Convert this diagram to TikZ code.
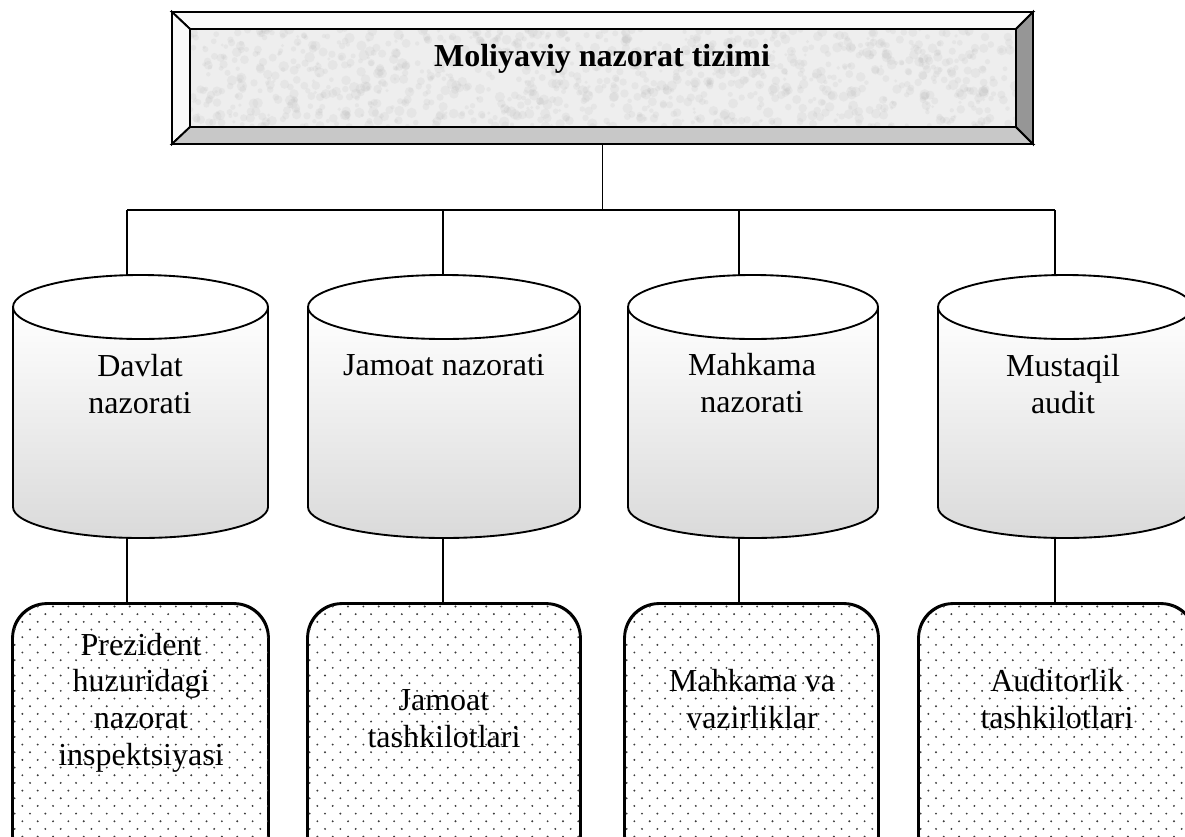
\documentclass[tikz,border=0pt]{standalone}
\usepackage{fontspec}
\setmainfont{Liberation Serif}
\definecolor{bevlight}{RGB}{250,250,250}
\definecolor{bevbottom}{RGB}{200,200,200}
\definecolor{bevright}{RGB}{150,150,150}
\definecolor{innerfill}{RGB}{238,238,238}
\definecolor{speck}{RGB}{175,175,175}
\definecolor{cylgray}{RGB}{218,218,218}
\definecolor{dotc}{RGB}{60,60,60}
\tikzset{
  conn/.style={draw=black, line width=1.1pt},
  outline/.style={draw=black, line width=1.4pt},
  txt/.style={font=\fontsize{24}{27.5}\selectfont, align=center, inner sep=0pt, anchor=base},
  ttl/.style={font=\fontsize{24}{27.5}\selectfont\bfseries, inner sep=0pt, anchor=base},
  dotbox/.style={draw=black, line width=1.4pt, rounded corners=26pt, inner sep=0pt},
  anchorbox/.style={inner sep=0pt, draw=none},
}
\begin{document}
\begin{tikzpicture}[x=0.75pt,y=-0.75pt]
\useasboundingbox (0,0) rectangle (1185,836);
\clip (0,0) rectangle (1185,836);

% ---- top bevel box ----
\node[anchorbox, minimum width=861*0.75pt, minimum height=132*0.75pt] (top) at (602.5,78) {};
\fill[innerfill] (190,29) rectangle (1016,127);
\begin{scope}
  \clip (190,29) rectangle (1016,127);
  \pgfmathsetseed{7}
  \foreach \s in {1,...,1100} {
    \fill[speck, opacity=0.13] ({190+826*rnd}, {29+98*rnd}) circle[radius={(1.2+2.8*rnd)*1pt}];
  }
\end{scope}
\filldraw[fill=bevlight, outline] (172,12) -- (1033,12) -- (1016,29) -- (190,29) -- cycle;
\filldraw[fill=bevlight, outline] (172,12) -- (190,29) -- (190,127) -- (172,144) -- cycle;
\filldraw[fill=bevbottom, outline] (172,144) -- (190,127) -- (1016,127) -- (1033,144) -- cycle;
\filldraw[fill=bevright, outline] (1033,12) -- (1033,144) -- (1016,127) -- (1016,29) -- cycle;
\draw[outline] (190,29) rectangle (1016,127);
\node[ttl] (title) at (602,66.7) {Moliyaviy nazorat tizimi};

% ---- bus ----
\coordinate (j1) at (127,210);
\coordinate (j2) at (443,210);
\coordinate (j3) at (739,210);
\coordinate (j4) at (1055,210);
\draw[conn] (top.south) -- (top.south |- j1);
\draw[conn] (j1) -- (j4);

% ---- cylinders ----
\foreach \n/\L/\R in {1/13/268, 2/308/580, 3/628/878, 4/938/1192} {
  \pgfmathsetmacro\cx{(\L+\R)/2}
  \pgfmathsetmacro\rx{(\R-\L)/2}
  \pgfmathsetmacro\w{(\R-\L)*0.75}
  \node[anchorbox, minimum width=\w pt, minimum height=263*0.75pt] (k\n) at (\cx,406.5) {};
  \shade[top color=white, bottom color=cylgray] (\L,307) -- (\L,507) arc[start angle=180, end angle=0, x radius=\rx, y radius=31] -- (\R,307) -- cycle;
  \draw[outline, line join=round] (\L,307) -- (\L,507) arc[start angle=180, end angle=0, x radius=\rx, y radius=31] -- (\R,307);
  \draw[outline, fill=white] (\cx,307) ellipse[x radius=\rx, y radius=32];
}

% ---- dotted boxes ----
\foreach \n/\L/\R in {1/13/268, 2/308/580, 3/625/878, 4/919/1195} {
  \pgfmathsetmacro\cx{(\L+\R)/2}
  \pgfmathsetmacro\w{(\R-\L)*0.75}
  \node[dotbox, minimum width=\w pt, minimum height=266*0.75pt] (b\n) at (\cx,737) {};
  \begin{scope}
    \clip[rounded corners=26pt] (b\n.south west) rectangle (b\n.north east);
    \foreach \r in {0,...,31} {
      \foreach \c in {0,...,19} {
        \fill[dotc] ({\L - 6 + 15.35*\c + 7.67*mod(\r,2)}, {606.5 + 7.67*\r}) circle[radius=0.8pt];
      }
    }
  \end{scope}
  \draw[outline, rounded corners=26pt] (b\n.south west) rectangle (b\n.north east);
}

% ---- connectors cylinder to box ----
\foreach \n in {1,...,4} {
  \draw[conn] (j\n) -- (j\n |- k\n.north);
  \draw[conn] (j\n |- k\n.south) -- (j\n |- b\n.north);
}

% ---- texts (base = last line baseline) ----
\node[txt] (t1) at (140,413) {Davlat\\nazorati};
\node[txt] (t2) at (444,375) {Jamoat nazorati};
\node[txt] (t3) at (752,412) {Mahkama\\nazorati};
\node[txt] (t4) at (1063,413) {Mustaqil\\audit};

\node[txt] (u1) at (141,765) {Prezident\\huzuridagi\\nazorat\\inspektsiyasi};
\node[txt] (u2) at (444,747) {Jamoat\\tashkilotlari};
\node[txt] (u3) at (752,728) {Mahkama va\\vazirliklar};
\node[txt] (u4) at (1057,728) {Auditorlik\\tashkilotlari};
\end{tikzpicture}
\end{document}
